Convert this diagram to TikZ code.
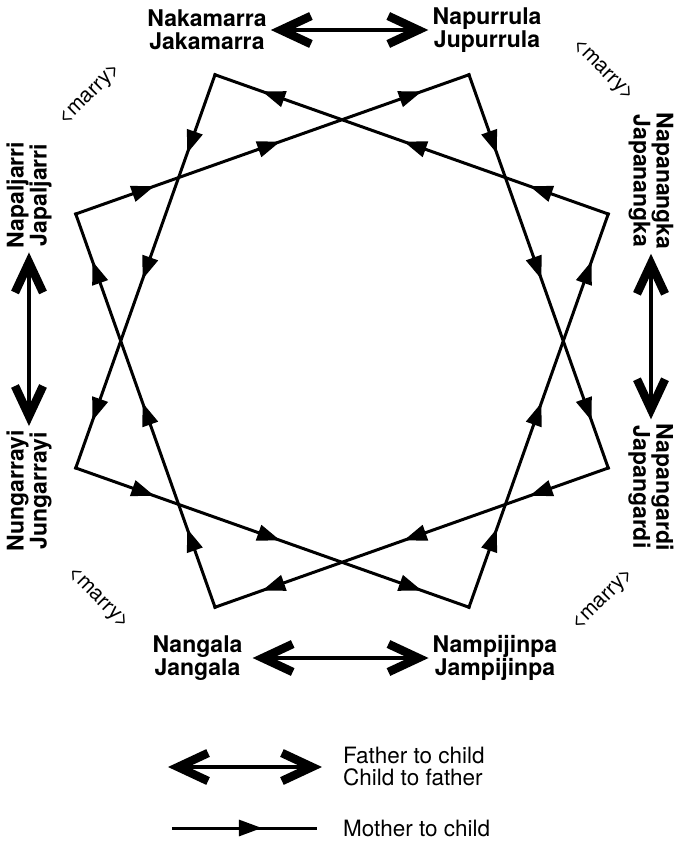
\documentclass[tikz,border=0pt]{standalone}
\usepackage{fontspec}
\setmainfont{TeX Gyre Heros}
\usepackage{tikz}
\usetikzlibrary{arrows.meta,decorations.markings}

\begin{document}
\begin{tikzpicture}[x=1pt,y=1pt,
    skin/.style={font=\bfseries\fontsize{23}{23}\selectfont,align=center,inner sep=4pt},
    marry/.style={font=\fontsize{21}{21}\selectfont,inner sep=0pt},
    legend/.style={font=\fontsize{22.5}{22}\selectfont,align=left,anchor=west,inner sep=0pt},
    father/.style={line width=4.5pt,<->,>={Straight Barb[length=30pt,width=28pt,line width=8.5pt]}},
    mline/.style={line width=3pt,line cap=rect,postaction={decorate}},
    mother/.style={mline,decoration={markings,
        mark=at position 0.2 with {\arrow{Triangle[length=23pt,width=16pt]}},
        mark=at position 0.52 with {\arrow{Triangle[length=23pt,width=16pt]}},
        mark=at position 0.88 with {\arrow{Triangle[length=23pt,width=16pt]}}}},
    mlegend/.style={mline,line cap=butt,decoration={markings,
        mark=at position 0.62 with {\arrow{Triangle[length=23pt,width=16pt]}}}}
  ]
  \useasboundingbox (-342,-500) rectangle (336,341);

  \foreach \i/\ang in {1/115.5,2/205.5,3/295.5,4/25.5}
    \coordinate (a\i) at (\ang:295pt);
  \foreach \i/\ang in {1/154.5,2/64.5,3/-25.5,4/244.5}
    \coordinate (b\i) at (\ang:295pt);
  \foreach \p/\q in {1/2,2/3,3/4,4/1} {
    \draw[mother] (a\p) -- (a\q);
    \draw[mother] (b\p) -- (b\q);
  }

  \node[skin] (nak) at (-135,311) {Nakamarra\\Jakamarra};
  \node[skin] (napu) at (145,311) {Napurrula\\Jupurrula};
  \node[skin,rotate=90] (napal) at (-313,146) {Napaljarri\\Japaljarri};
  \node[skin,rotate=90] (nung) at (-313,-150) {Nungarrayi\\Jungarrayi};
  \node[skin,rotate=-90] (napan) at (309,160) {Napanangka\\Japanangka};
  \node[skin,rotate=-90] (napang) at (309,-146) {Napangardi\\Japangardi};
  \node[skin] (nanga) at (-144.5,-317) {Nangala\\Jangala};
  \node[skin] (nampi) at (153,-317) {Nampijinpa\\Jampijinpa};

  \draw[father] (nak) -- (napu);
  \draw[father] (napal) -- (nung);
  \draw[father] (napan) -- (napang);
  \draw[father,shorten <=6pt] (nanga) -- (nampi);

  \node[marry,rotate=45] (m1) at (-251,246) {\textless marry\textgreater};
  \node[marry,rotate=-45] (m2) at (261,270) {\textless marry\textgreater};
  \node[marry,rotate=-45] (m3) at (-244,-258) {\textless marry\textgreater};
  \node[marry,rotate=45] (m4) at (262,-259) {\textless marry\textgreater};

  \coordinate (fa) at (-174,-426);
  \coordinate (fb) at (-20,-426);
  \draw[father] (fa) -- (fb);
  \node[legend] (ftxt) at (1,-425) {Father to child\\Child to father};
  \coordinate (ma) at (-170,-487);
  \coordinate (mb) at (-25,-487);
  \draw[mlegend] (ma) -- (mb);
  \node[legend] (mtxt) at (1,-487) {Mother to child};
\end{tikzpicture}
\end{document}
